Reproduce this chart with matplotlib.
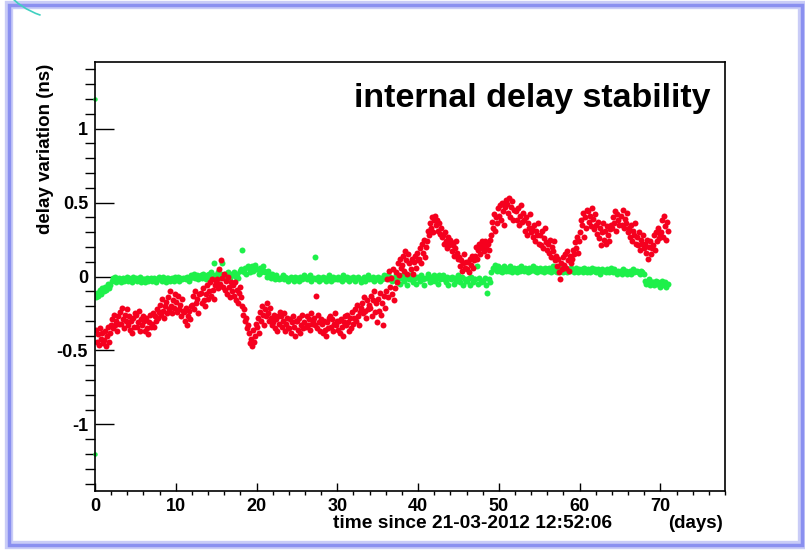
import matplotlib
matplotlib.use('Agg')
import matplotlib.pyplot as plt
from matplotlib.patches import Rectangle, Arc
from matplotlib.ticker import MultipleLocator

plt.rcParams['font.family'] = ['Liberation Sans', 'DejaVu Sans']
plt.rcParams['font.weight'] = 'bold'

# readings per day, in units of 0.01 ns
red_daily = [
    [-36, -44, -39, -46, -35, -42, -38, -45],
    [-43, -37, -47, -40, -34, -44, -38, -33],
    [-29, -35, -26, -33, -30, -37, -27, -32],
    [-24, -32, -21, -29, -35, -26, -30, -22],
    [-33, -27, -36, -30, -38, -28, -34, -25],
    [-26, -34, -31, -23, -37, -29, -33, -27],
    [-30, -37, -28, -35, -39, -31, -26, -34],
    [-32, -25, -34, -27, -30, -22, -28, -24],
    [-19, -26, -15, -23, -28, -20, -17, -25],
    [-14, -22, -10, -20, -25, -16, -21, -12],
    [-17, -24, -13, -22, -19, -27, -15, -23],
    [-24, -30, -21, -33, -27, -23, -29, -20],
    [-19, -13, -22, -10, -18, -15, -25, -12],
    [-11, -18, -8, -16, -20, -12, -6, -15],
    [-10, -4, -13, -2, -9, -15, -6, -3],
    [-2, -8, 5, -5, 11, -1, -7, 2],
    [-9, -3, -12, 0, -7, -14, -4, -10],
    [-6, -13, -4, -16, -9, -18, -11, -7],
    [-14, -20, -26, -22, -30, -28, -35, -33],
    [-38, -45, -42, -47, -36, -44, -40, -32],
    [-34, -28, -38, -24, -30, -20, -26, -33],
    [-22, -27, -18, -25, -30, -21, -28, -33],
    [-31, -26, -35, -29, -37, -27, -32, -24],
    [-27, -34, -30, -25, -37, -32, -28, -35],
    [-35, -29, -38, -31, -27, -34, -40, -30],
    [-30, -36, -28, -38, -33, -26, -35, -31],
    [-34, -27, -33, -29, -36, -25, -32, -30],
    [-28, -33, -13, -35, -26, -31, -37, -29],
    [-32, -38, -30, -36, -40, -31, -35, -28],
    [-27, -34, -29, -37, -32, -25, -33, -30],
    [-36, -30, -38, -29, -34, -40, -31, -27],
    [-33, -26, -31, -37, -28, -35, -24, -32],
    [-28, -22, -30, -19, -27, -33, -24, -21],
    [-18, -25, -14, -23, -28, -16, -22, -19],
    [-21, -13, -27, -16, -10, -24, -18, -31],
    [-15, -23, -11, -26, -18, -33, -13, -21],
    [-10, -2, -14, 4, -7, -1, -12, 5],
    [-16, -8, 3, -4, 9, 1, 12, 6],
    [8, 14, 4, 17, 11, 2, 15, 9],
    [5, 12, 2, 10, 14, 6, 16, 11],
    [12, 19, 9, 22, 16, 25, 13, 20],
    [24, 31, 28, 36, 33, 40, 30, 38],
    [41, 35, 38, 31, 36, 29, 33, 27],
    [28, 22, 30, 24, 19, 27, 21, 25],
    [23, 17, 21, 14, 19, 24, 16, 12],
    [13, 7, 11, 4, 9, 15, 6, 10],
    [5, 10, 3, 12, 8, 14, 6, 11],
    [14, 20, 12, 18, 22, 15, 19, 24],
    [21, 17, 24, 19, 14, 22, 18, 25],
    [28, 37, 33, 42, 31, 40, 36, 46],
    [41, 48, 38, 50, 44, 35, 47, 52],
    [49, 43, 53, 40, 47, 51, 38, 45],
    [44, 38, 46, 35, 41, 48, 37, 43],
    [38, 31, 40, 28, 36, 33, 42, 30],
    [33, 27, 35, 24, 31, 28, 36, 22],
    [28, 21, 31, 19, 26, 33, 23, 18],
    [22, 16, 25, 13, 20, 17, 24, 11],
    [14, 7, 12, 3, -2, 9, 5, 13],
    [8, 15, 6, 17, 11, 4, 14, 9],
    [12, 18, 15, 23, 19, 27, 16, 24],
    [30, 38, 35, 43, 27, 40, 33, 45],
    [44, 37, 41, 34, 46, 39, 32, 42],
    [35, 29, 37, 26, 33, 21, 30, 36],
    [25, 31, 22, 34, 28, 24, 32, 35],
    [33, 40, 36, 44, 31, 42, 38, 35],
    [41, 35, 45, 33, 39, 36, 43, 30],
    [33, 27, 35, 24, 31, 28, 36, 22],
    [27, 21, 30, 18, 25, 22, 28, 19],
    [22, 16, 25, 12, 20, 24, 15, 19],
    [21, 28, 18, 30, 24, 33, 26, 29],
    [30, 38, 27, 41, 34, 25, 37, 31],
]

green_daily = [
    [-14, -11, -13, -9, -12, -8],
    [-10, -7, -9, -5, -8, -6],
    [-3, -1, 0, -4, -2, -1],
    [-2, -4, -1, -3, -2, 0],
    [-3, -1, -2, -4, 0, -2],
    [-1, -3, -2, 0, -4, -2],
    [-2, -4, -1, -3, -2, -1],
    [-3, -1, -2, -4, -2, 0],
    [-2, -3, 0, -2, -4, -1],
    [-1, -3, -2, -1, -3, 0],
    [-2, 0, -3, -1, -2, -1],
    [-1, -2, 0, -3, -1, 1],
    [0, 2, -1, 1, -2, 0],
    [1, -1, 2, 0, -2, 1],
    [2, 0, 3, -1, 9, 1],
    [1, 3, -1, 2, 9, 0],
    [2, 0, 3, 1, -1, 2],
    [1, 3, 0, 2, -1, 4],
    [5, 18, 3, 6, 2, 7],
    [6, 3, 7, 4, 8, 5],
    [5, 2, 6, 3, 7, 4],
    [3, 0, 4, 1, -1, 2],
    [0, -2, 1, -1, -2, -1],
    [-1, 1, -2, 0, -1, -3],
    [-2, 0, -1, -3, 0, -1],
    [-1, -3, 0, -2, -1, 1],
    [0, -2, -1, 1, -3, -1],
    [-1, 13, -2, 0, -3, -1],
    [-2, 0, -1, -3, -1, 1],
    [-1, -3, 0, -2, -1, -2],
    [0, -2, -1, -3, 1, -1],
    [-2, 0, -3, -1, -2, 0],
    [-1, -3, -1, 0, -2, -4],
    [-2, 0, -3, -1, 1, -2],
    [-1, -2, 0, -3, -1, -2],
    [0, -3, -1, -2, 1, -1],
    [-1, 1, -2, 0, -3, -1],
    [-2, 1, -4, 0, -5, -1],
    [1, -3, -1, -6, 0, -2],
    [-2, 2, -4, -1, -5, 0],
    [0, -3, 1, -2, -6, -1],
    [-1, 2, -4, 0, -3, 1],
    [-3, 0, -5, 1, -2, -1],
    [1, -2, -4, 0, -6, -1],
    [-2, 0, -5, -1, -3, 1],
    [-1, -4, 0, -6, -2, -3],
    [-3, -1, -6, 0, -4, -2],
    [-2, 7, -5, -1, -4, -3],
    [-3, -1, -6, -11, -2, -4],
    [3, 6, 5, 8, 4, 7],
    [4, 6, 3, 7, 5, 4],
    [6, 4, 7, 3, 5, 6],
    [5, 3, 6, 4, 7, 5],
    [4, 6, 5, 3, 6, 4],
    [5, 7, 4, 6, 3, 5],
    [6, 4, 5, 3, 6, 5],
    [4, 6, 3, 5, 7, 4],
    [5, 3, 6, 4, 5, 3],
    [4, 6, 3, 5, 4, 6],
    [5, 3, 4, 6, 3, 5],
    [4, 5, 3, 6, 4, 3],
    [5, 3, 4, 6, 4, 5],
    [3, 5, 4, 2, 5, 4],
    [4, 3, 5, 3, 4, 6],
    [3, 5, 4, 2, 4, 3],
    [4, 2, 5, 3, 4, 2],
    [3, 4, 2, 5, 3, 4],
    [4, 3, 2, 4, 3, 2],
    [-3, -5, -4, -2, -6, -4],
    [-4, -6, -3, -5, -4, -7],
    [-5, -3, -6, -4, -7, -5],
]

# two lone points at t=0 (range markers)
green_edge_days = [0.0, 0.0]
green_edge_ns = [1.2, -1.2]


def unpack(daily):
    days, vals = [], []
    for d, readings in enumerate(daily):
        n = len(readings)
        for k, v in enumerate(readings):
            days.append(d + (k + 0.5) / n)
            vals.append(v / 100.0)
    return days, vals


red_t, red_v = unpack(red_daily)
green_t, green_v = unpack(green_daily)

fig = plt.figure(figsize=(8.05, 5.5), dpi=100)
ax = fig.add_axes([95 / 805, 1 - 491 / 550, 630 / 805, 429 / 550])

ax.plot(green_t, green_v, 'o', color='#1ef04a', ms=4.3, mew=0)
ax.plot(green_edge_days, green_edge_ns, 'o', color='#1ef04a', ms=3.2, mew=0,
        clip_on=False)
ax.plot(red_t, red_v, 'o', color='#f5001e', ms=4.3, mew=0)

ax.set_xlim(0, 78)
ax.set_ylim(-1.45, 1.45)

ax.xaxis.set_major_locator(MultipleLocator(10))
ax.xaxis.set_minor_locator(MultipleLocator(2))
ax.yaxis.set_major_locator(MultipleLocator(0.5))
ax.yaxis.set_minor_locator(MultipleLocator(0.1))
ax.yaxis.set_major_formatter(plt.FuncFormatter(lambda v, p: '%g' % v))

ax.tick_params(axis='both', direction='in', labelsize=13, width=1.0,
               top=False, right=False)
ax.tick_params(axis='y', which='major', length=13.5, pad=5)
ax.tick_params(axis='y', which='minor', length=7, width=1.0)
ax.tick_params(axis='x', which='major', length=6, pad=5)
ax.tick_params(axis='x', which='minor', length=3, width=1.0)
for lbl in ax.get_xticklabels() + ax.get_yticklabels():
    lbl.set_fontweight('bold')
for sp in ax.spines.values():
    sp.set_linewidth(1.2)

ax.text((710 - 95) / 630, (491 - 107) / 429, 'internal delay stability',
        transform=ax.transAxes, ha='right', va='baseline', fontsize=24.5,
        fontweight='bold')

fig.text(45 / 805, 1 - 64 / 550, 'delay variation (ns)', rotation=90,
         ha='center', va='top', fontsize=13.5, fontweight='bold')
fig.text(333 / 805, 1 - 523 / 550, 'time since 21-03-2012 12:52:06',
         ha='left', va='center', fontsize=13.8, fontweight='bold')
fig.text(723 / 805, 1 - 523 / 550, '(days)',
         ha='right', va='center', fontsize=13.5, fontweight='bold')

# slide frame around the plot
fig.patches.append(Rectangle((9 / 805, 5 / 550), 793 / 805, 540 / 550,
                             transform=fig.transFigure, fill=False,
                             edgecolor='#c9ccf7', lw=6))
fig.patches.append(Rectangle((9 / 805, 5 / 550), 793 / 805, 540 / 550,
                             transform=fig.transFigure, fill=False,
                             edgecolor='#8a90f0', lw=2.5))
fig.patches.append(Arc((70 / 805, 1 + 40 / 550), 150 / 805, 120 / 550,
                       theta1=180, theta2=250, transform=fig.transFigure,
                       edgecolor='#3fd0c0', lw=1.2))

fig.savefig('out.png', dpi=100)
